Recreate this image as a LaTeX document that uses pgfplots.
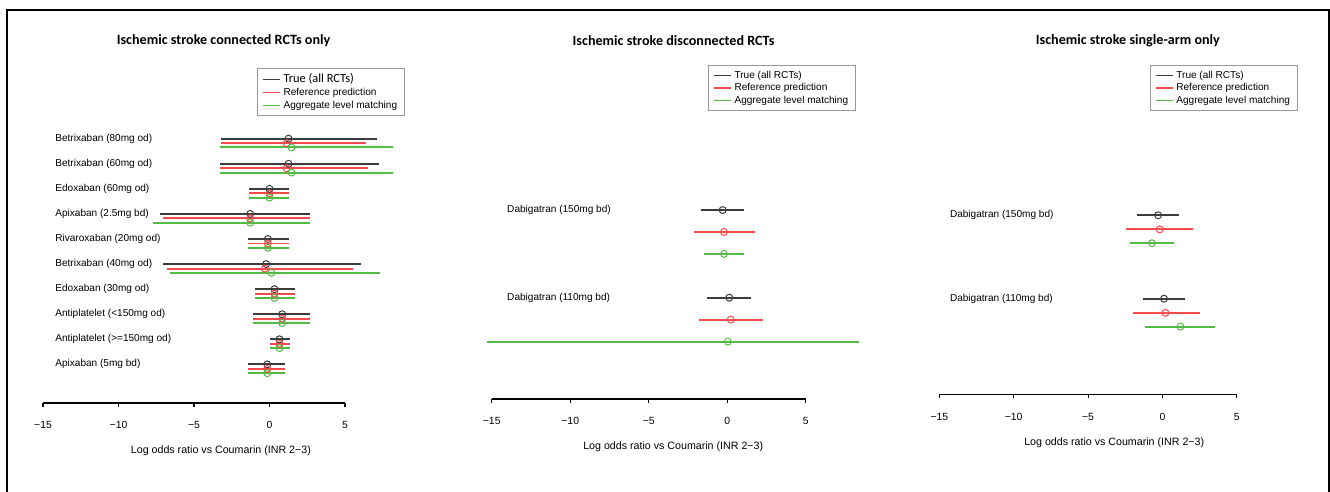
\documentclass[border=0pt]{standalone}
\usepackage{pgfplots}
\pgfplotsset{compat=1.18}
\usepackage{pgfplotstable}
\usepackage{fontspec}
\setmainfont{Liberation Sans}
\newfontfamily\calfont{Carlito}

\definecolor{cblack}{RGB}{60,60,60}
\definecolor{cred}{RGB}{245,75,75}
\definecolor{cgreen}{RGB}{85,185,70}

% Panel 1: connected RCTs only
\pgfplotstableread{
y x lo hi
1 1.26 -3.18 7.09
2 1.26 -3.25 7.22
3 0.00 -1.37 1.32
4 -1.28 -7.28 2.69
5 -0.11 -1.43 1.26
6 -0.22 -7.02 6.07
7 0.33 -0.99 1.68
8 0.84 -1.06 2.69
9 0.66 0.05 1.37
10 -0.15 -1.43 1.04
}\pAk
\pgfplotstableread{
y x lo hi
1.18 1.13 -3.18 6.42
2.18 1.13 -3.31 6.49
3.18 0.00 -1.37 1.32
4.18 -1.28 -7.06 2.69
5.18 -0.11 -1.43 1.26
6.18 -0.31 -6.78 5.52
7.18 0.33 -0.99 1.68
8.18 0.84 -1.06 2.69
9.18 0.66 0.05 1.37
10.18 -0.15 -1.43 1.04
}\pAr
\pgfplotstableread{
y x lo hi
1.35 1.46 -3.31 8.15
2.35 1.46 -3.31 8.21
3.35 0.00 -1.37 1.32
4.35 -1.28 -7.73 2.69
5.35 -0.11 -1.43 1.26
6.35 0.13 -6.58 7.33
7.35 0.33 -0.99 1.68
8.35 0.84 -1.06 2.69
9.35 0.66 0.05 1.37
10.35 -0.15 -1.43 1.04
}\pAg
% Panel 2: disconnected RCTs
\pgfplotstableread{
y x lo hi
1 -0.29 -1.68 1.08
2 0.13 -1.27 1.51
}\pBk
\pgfplotstableread{
y x lo hi
1.25 -0.21 -2.10 1.75
2.25 0.22 -1.82 2.29
}\pBr
\pgfplotstableread{
y x lo hi
1.5 -0.21 -1.48 1.06
2.5 0.04 -15.29 8.39
}\pBg
% Panel 3: single-arm only
\pgfplotstableread{
y x lo hi
1 -0.29 -1.68 1.10
2 0.11 -1.30 1.50
}\pCk
\pgfplotstableread{
y x lo hi
1.17 -0.18 -2.42 2.06
2.17 0.20 -1.98 2.56
}\pCr
\pgfplotstableread{
y x lo hi
1.335 -0.70 -2.20 0.76
2.335 1.21 -1.17 3.52
}\pCg

\newcommand\lblfont{\fontsize{7.55}{8.5}\selectfont}
\tikzset{lbl/.style={anchor=west, inner sep=0pt, font=\lblfont}}

\pgfplotsset{
  forest/.style={
    scale only axis, clip=false,
    y dir=reverse, ymin=0,
    xmin=-15, xmax=5,
    axis x line*=bottom, axis y line=none,
    xtick={-15,-10,-5,0,5},
    xticklabels={−15,−10,−5,0,5},
    tick align=outside, major tick length=3pt,
    every tick/.style={black, line width=0.8pt},
    x axis line style={black, line width=0.8pt},
    ticklabel style={font=\fontsize{7.8}{9}\selectfont},
    xticklabel style={yshift=-7.5pt},
    xlabel={Log odds ratio vs Coumarin (INR 2−3)},
    xlabel style={font=\fontsize{8}{9}\selectfont, anchor=center, yshift=-36pt},
    title style={font=\calfont\bfseries\fontsize{10.6}{12}\selectfont, anchor=center},
    legend style={draw=gray!80, line width=0.7pt, font=\lblfont,
      anchor=north west, cells={anchor=west}, row sep=-1.5pt,
      inner xsep=3.5pt, inner ysep=2pt},
  },
  fp/.style={#1, only marks, mark=o, mark size=2.6pt, mark options={line width=0.75pt, #1}, forget plot,
    error bars/.cd, x dir=both, x explicit, error mark=none,
    error bar style={line width=1.45pt, #1}},
  limg/.style={legend image code/.code={\draw[#1, line width=1pt] (0pt,0pt)--(13pt,0pt);}},
}

\newcommand\fplot[2]{\addplot[fp=#1] table[x=x, y=y,
  x error plus expr=\thisrow{hi}-\thisrow{x},
  x error minus expr=\thisrow{x}-\thisrow{lo}] {#2};}

\begin{document}
\begin{tikzpicture}
\useasboundingbox (0,0) rectangle (997.5pt,-369pt);
\draw[line width=1.5pt] (5.25pt,-369pt) -- (5.25pt,-7.5pt) -- (996.75pt,-7.5pt) -- (996.75pt,-369pt);

% ---------- Panel 1
\begin{axis}[forest,
  at={(32.25pt,-302.25pt)}, anchor=south west,
  width=226.5pt, height=217.05pt, ymax=11.54,
  title={Ischemic stroke connected RCTs only},
  title style={at={(axis description cs:0.598,1)}, yshift=48.5pt},
  xlabel style={at={(axis description cs:0.589,0)}},
  legend style={at={(axis description cs:0.709,1.158)}},
]
\addlegendimage{limg=cblack}
\addlegendentry{\calfont\fontsize{9.3}{10}\selectfont True (all RCTs)}
\addlegendimage{limg=cred}
\addlegendentry{Reference prediction}
\addlegendimage{limg=cgreen}
\addlegendentry{Aggregate level matching}
\fplot{cblack}{\pAk}
\fplot{cred}{\pAr}
\fplot{cgreen}{\pAg}
\node[lbl] at (axis cs:-14.2,1) {Betrixaban (80mg od)};
\node[lbl] at (axis cs:-14.2,2) {Betrixaban (60mg od)};
\node[lbl] at (axis cs:-14.2,3) {Edoxaban (60mg od)};
\node[lbl] at (axis cs:-14.2,4) {Apixaban (2.5mg bd)};
\node[lbl] at (axis cs:-14.2,5) {Rivaroxaban (20mg od)};
\node[lbl] at (axis cs:-14.2,6) {Betrixaban (40mg od)};
\node[lbl] at (axis cs:-14.2,7) {Edoxaban (30mg od)};
\node[lbl] at (axis cs:-14.2,8) {Antiplatelet (<150mg od)};
\node[lbl] at (axis cs:-14.2,9) {Antiplatelet (>=150mg od)};
\node[lbl] at (axis cs:-14.2,10) {Apixaban (5mg bd)};
\end{axis}

% ---------- Panel 2
\begin{axis}[forest,
  at={(368.8pt,-299.25pt)}, anchor=south west,
  width=235.5pt, height=207.5pt, ymax=3.155,
  title={Ischemic stroke disconnected RCTs},
  title style={at={(axis description cs:0.579,1)}, yshift=55pt},
  xlabel style={at={(axis description cs:0.578,0)}},
  legend style={at={(axis description cs:0.689,1.207)}},
]
\addlegendimage{limg=cblack}
\addlegendentry{True (all RCTs)}
\addlegendimage{limg=cred}
\addlegendentry{Reference prediction}
\addlegendimage{limg=cgreen}
\addlegendentry{Aggregate level matching}
\fplot{cblack}{\pBk}
\fplot{cred}{\pBr}
\fplot{cgreen}{\pBg}
\node[lbl] at (axis cs:-14.03,1) {Dabigatran (150mg bd)};
\node[lbl] at (axis cs:-14.03,2) {Dabigatran (110mg bd)};
\end{axis}

% ---------- Panel 3
\begin{axis}[forest,
  at={(704.5pt,-295.7pt)}, anchor=south west,
  width=223.05pt, height=196.8pt, ymax=3.146,
  title={Ischemic stroke single-arm only},
  title style={at={(axis description cs:0.634,1)}, yshift=62.2pt},
  xlabel style={at={(axis description cs:0.588,0)}},
  legend style={at={(axis description cs:0.708,1.255)}},
]
\addlegendimage{limg=cblack}
\addlegendentry{True (all RCTs)}
\addlegendimage{limg=cred}
\addlegendentry{Reference prediction}
\addlegendimage{limg=cgreen}
\addlegendentry{Aggregate level matching}
\fplot{cblack}{\pCk}
\fplot{cred}{\pCr}
\fplot{cgreen}{\pCg}
\node[lbl] at (axis cs:-14.3,1) {Dabigatran (150mg bd)};
\node[lbl] at (axis cs:-14.3,2) {Dabigatran (110mg bd)};
\end{axis}
\end{tikzpicture}
\end{document}
